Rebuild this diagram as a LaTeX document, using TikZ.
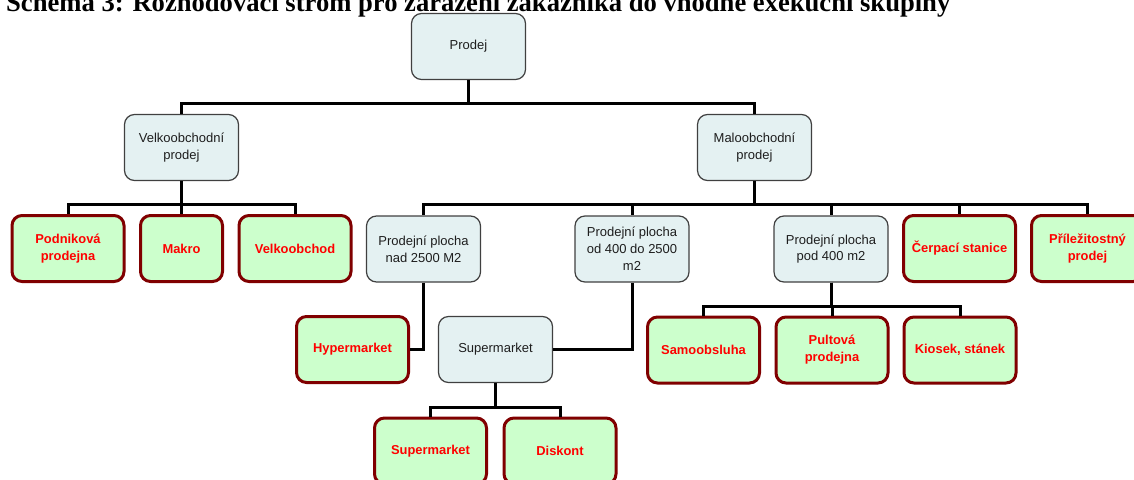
\documentclass[tikz,border=0pt]{standalone}
\usepackage{fontspec}
\setmainfont{Liberation Sans}
\newfontfamily\titlefont{Liberation Serif}
\definecolor{boxblue}{RGB}{228,241,242}
\definecolor{boxgreen}{RGB}{204,255,204}
\definecolor{leafborder}{RGB}{128,0,0}
\definecolor{leaftext}{RGB}{255,0,0}
\definecolor{inner}{RGB}{30,30,30}
\tikzset{
  decision/.style={draw=black!75, line width=1.2pt, fill=boxblue, rounded corners=10pt,
    minimum width=114pt, minimum height=66pt, inner sep=2pt, align=center,
    text=inner, font=\fontsize{13}{16.8}\selectfont},
  leaf/.style={draw=leafborder, line width=3pt, fill=boxgreen, rounded corners=10pt,
    minimum width=112pt, minimum height=66pt, inner sep=2pt, align=center,
    text=leaftext, font=\fontsize{12.9}{16.8}\selectfont\bfseries},
  link/.style={draw=black, line width=3pt}
}
\begin{document}
\begin{tikzpicture}[x=1pt,y=-1pt]
\useasboundingbox (0,0) rectangle (1134,479);
\clip (0,0) rectangle (1134,479);

% caption, partly cut off by the page edge
\node[anchor=base west, inner sep=0pt, font=\titlefont\fontsize{26.6}{30}\selectfont\bfseries]
  (caption) at (6,12) {Schéma 3: Rozhodovací strom pro zařazení zákazníka do vhodné exekuční skupiny};

% decision nodes
\node[decision] (prodej) at (468.5,46.5) {Prodej};
\node[decision] (velko) at (181.5,147.5) {Velkoobchodní\\prodej};
\node[decision] (malo) at (754.5,147.5) {Maloobchodní\\prodej};
\node[decision] (nad) at (423.5,249) {Prodejní plocha\\nad 2500 M2};
\node[decision] (od) at (632,249) {Prodejní plocha\\od 400 do 2500\\m2};
\node[decision] (pod) at (831,249) {Prodejní plocha\\pod 400 m2};
\node[decision] (super) at (495.5,349.5) {Supermarket};

% leaves
\node[leaf] (podnikova) at (68,248.5) {Podniková\\prodejna};
\node[leaf, minimum width=82pt] (makro) at (181.5,248.5) {Makro};
\node[leaf] (velkoobchod) at (295,248.5) {Velkoobchod};
\node[leaf] (cerpaci) at (959.5,248.5) {Čerpací stanice};
\node[leaf] (prilez) at (1087.5,248.5) {Příležitostný\\prodej};
\node[leaf] (hyper) at (352.5,349.5) {Hypermarket};
\node[leaf] (samo) at (703.5,350) {Samoobsluha};
\node[leaf] (pult) at (832,350) {Pultová\\prodejna};
\node[leaf] (kiosek) at (960,350) {Kiosek, stánek};
\node[leaf] (supleaf) at (430.5,451) {Supermarket};
\node[leaf] (diskont) at (560,451) {Diskont};

% levels of the horizontal bars
\coordinate (bar0) at (0,103);
\coordinate (bar1) at (0,204);
\coordinate (bar2) at (0,306);
\coordinate (bar3) at (0,407);

% connectors
\foreach \c in {velko,malo}
  \draw[link] (prodej.south) -- (prodej.south |- bar0) -| (\c.north);
\foreach \c in {podnikova,makro,velkoobchod}
  \draw[link] (velko.south) -- (velko.south |- bar1) -| (\c.north);
\foreach \c in {nad,od,pod,cerpaci,prilez}
  \draw[link] (malo.south) -- (malo.south |- bar1) -| (\c.north);
\foreach \c in {samo,pult,kiosek}
  \draw[link] (pod.south) -- (pod.south |- bar2) -| (\c.north);
\foreach \c in {supleaf,diskont}
  \draw[link] (super.south) -- (super.south |- bar3) -| (\c.north);
\draw[link] (nad.south) |- (hyper.east);
\draw[link] (od.south) |- (super.east);
\end{tikzpicture}
\end{document}
